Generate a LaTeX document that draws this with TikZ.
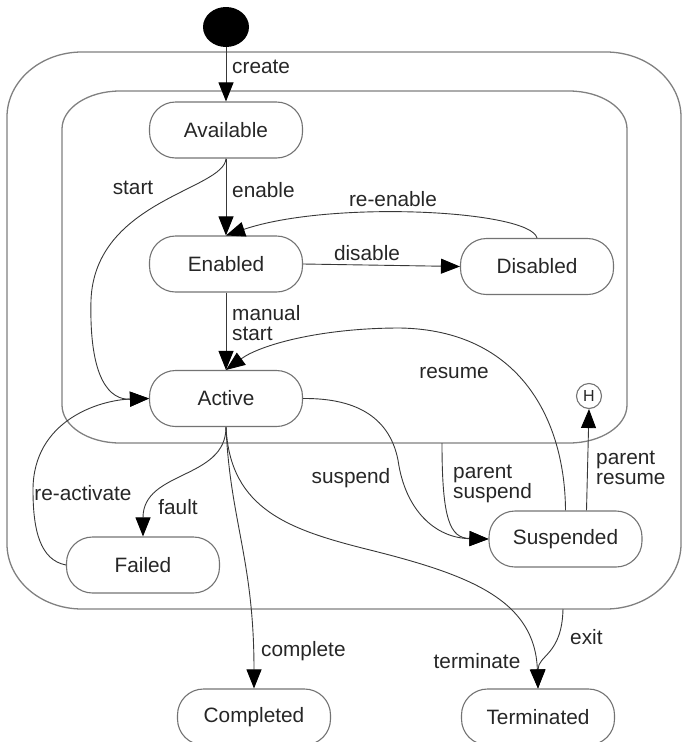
\documentclass[tikz,border=0pt]{standalone}
\usepackage{fontspec}
\setmainfont{Liberation Sans}
\usetikzlibrary{arrows.meta,shapes.geometric}
\begin{document}
\begin{tikzpicture}[x=1pt,y=-1pt,
  txt/.style={text=black!85, font=\fontsize{20.8}{19.5}\selectfont},
  st/.style={draw=black!55, line width=1.1pt, rounded corners=26pt, minimum width=153pt, minimum height=56pt, inner sep=0pt, txt},
  frame/.style={draw=black!50, line width=1.3pt},
  conn/.style={draw=black!78, line width=0.9pt, -{Triangle[length=19pt,width=15pt,color=black]}},
  lbl/.style={txt, inner sep=0pt, align=left}
]
\useasboundingbox (0,0) rectangle (683,742);
% frames
\draw[frame] (82,52) -- (606,52) .. controls (647.4,52) and (681,81.1) .. (681,117) -- (681,544) .. controls (681,579.9) and (647.4,609) .. (606,609) -- (82,609) .. controls (40.6,609) and (7,579.9) .. (7,544) -- (7,117) .. controls (7,81.1) and (40.6,52) .. (82,52) -- cycle;
\draw[frame] (120,91) -- (569,91) .. controls (601,91) and (627,108) .. (627,129) -- (627,405) .. controls (627,426) and (601,443) .. (569,443) -- (120,443) .. controls (88,443) and (62,426) .. (62,405) -- (62,129) .. controls (62,108) and (88,91) .. (120,91) -- cycle;
\coordinate (ps) at (442,443);
\coordinate (ex) at (563,609);
% states
\node[ellipse, fill=black, minimum width=46pt, minimum height=40pt, inner sep=0pt] (init) at (226,27) {};
\node[st] (avail) at (226,130) {Available};
\node[st] (enab) at (226,264) {Enabled};
\node[st] (dis) at (537,266.5) {Disabled};
\node[st] (act) at (226,398.5) {Active};
\node[st] (fail) at (143,565) {Failed};
\node[st] (susp) at (565.5,539) {Suspended};
\node[st] (comp) at (254,717) {Completed};
\node[st] (term) at (538,717) {Terminated};
\node[circle, draw=black!55, line width=1.1pt, minimum size=25pt, inner sep=0pt, text=black!85, font=\fontsize{16}{16}\selectfont] (H) at (589,396) {H};
% connectors
\draw[conn] (init.south) -- (avail.north);
\draw[conn] (avail.south) -- (enab.north);
\draw[conn] (avail.south) .. controls (224,190) and (95,200) .. (91,300) .. controls (89,380) and (110,400) .. (act.west);
\draw[conn] (enab.south) -- (act.north);
\draw[conn] (enab.east) -- (dis.west);
\draw[conn] (dis.north) .. controls (530,210) and (330,200) .. (enab.north);
\draw[conn] (susp.north) .. controls (565,420) and (520,330) .. (400,328) .. controls (320,328) and (260,345) .. (act.north);
\draw[conn] ([xshift=21pt]susp.north) -- (H.south);
\draw[conn] (act.east) .. controls (360,398) and (390,420) .. (398,460) .. controls (405,510) and (435,538) .. (susp.west);
\draw[conn] (ps) .. controls (442,520) and (450,538) .. (susp.west);
\draw[conn] (act.south) .. controls (226,480) and (143,470) .. (fail.north);
\draw[conn] (fail.west) .. controls (40,560) and (33,530) .. (33,490) .. controls (33,420) and (100,400) .. (act.west);
\draw[conn] (act.south) .. controls (230,520) and (254,560) .. (comp.north);
\draw[conn] (act.south) .. controls (230,510) and (290,530) .. (370,550) .. controls (470,575) and (535,600) .. (term.north);
\draw[conn] (ex) .. controls (562,655) and (538,655) .. (term.north);
% labels
\node[lbl, anchor=west] (lcreate) at (232,67) {create};
\node[lbl] (lstart) at (133,188) {start};
\node[lbl, anchor=west] (lenable) at (232,190) {enable};
\node[lbl] (lreenable) at (393,199) {re-enable};
\node[lbl] (ldisable) at (367,253) {disable};
\node[lbl, anchor=west] (lmanual) at (232,323) {manual\\start};
\node[lbl] (lresume) at (454,373) {resume};
\node[lbl] (lsuspend) at (351,478) {suspend};
\node[lbl, anchor=west] (lpsuspend) at (453,484) {parent\\suspend};
\node[lbl, anchor=west] (lpresume) at (596,468) {parent\\resume};
\node[lbl] (lreact) at (83,493) {re-activate};
\node[lbl] (lfault) at (178,507) {fault};
\node[lbl, anchor=west] (lcomplete) at (261,651) {complete};
\node[lbl] (lterminate) at (477,661) {terminate};
\node[lbl, anchor=west] (lexit) at (570,637) {exit};
\end{tikzpicture}
\end{document}
